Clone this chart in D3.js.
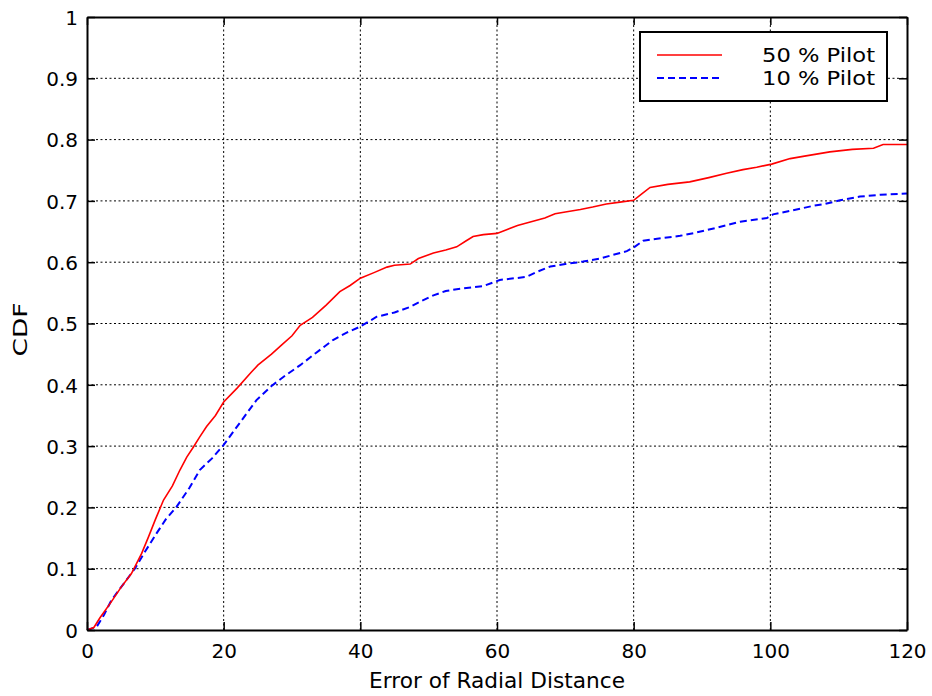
<!DOCTYPE html>
<html lang="en">
<head>
    <meta charset="UTF-8" />
    <title>CDF of Radial Distance Error</title>
    <script src="https://d3js.org/d3.v7.min.js"></script>
    <style>
        body { margin: 0; background: #fff; }
        text { font-family: "DejaVu Sans", sans-serif; fill: #000; }
    </style>
</head>
<body>
    <div id="viz"></div>
    <script>
        // --- Data ---
        const xTicks = [0, 20, 40, 60, 80, 100, 120];
        const yTicks = [0, 0.1, 0.2, 0.3, 0.4, 0.5, 0.6, 0.7, 0.8, 0.9, 1];

        const pilot50X = [0, 1, 1.9, 3.5, 5, 6.5, 8, 9, 10, 11.2, 12.5, 13.6, 14.6, 15.6, 16.5, 17.5, 18.8, 20, 22, 24, 25, 27, 28.5, 30, 31.2, 33, 35, 37, 38.5, 40, 42, 43.9, 45, 47.3, 48.5, 50.7, 52.5, 54.1, 55.5, 56.5, 58, 60, 61.4, 63, 65, 67, 68.5, 70, 72.2, 74, 76, 78, 80, 81, 82.4, 85, 88.2, 91, 93.6, 96, 98, 100.2, 102.9, 105, 108.7, 112, 115.1, 116.5, 120];
        const pilot50Y = [0, 0.004, 0.02, 0.045, 0.07, 0.092, 0.125, 0.152, 0.18, 0.212, 0.235, 0.261, 0.282, 0.299, 0.315, 0.332, 0.35, 0.372, 0.395, 0.42, 0.432, 0.45, 0.465, 0.48, 0.497, 0.51, 0.53, 0.552, 0.562, 0.574, 0.583, 0.592, 0.595, 0.597, 0.606, 0.615, 0.62, 0.625, 0.635, 0.642, 0.645, 0.647, 0.653, 0.66, 0.666, 0.672, 0.679, 0.682, 0.686, 0.69, 0.695, 0.698, 0.701, 0.71, 0.722, 0.727, 0.731, 0.738, 0.745, 0.751, 0.755, 0.76, 0.769, 0.773, 0.78, 0.784, 0.786, 0.792, 0.792];

        const pilot10X = [0, 1.4, 2.5, 3.6, 5, 7, 8.5, 10.2, 11.5, 13.1, 15, 16.5, 18.3, 20, 22.5, 24.8, 27, 29, 31.2, 33.5, 36, 38, 40, 42.4, 45, 47.3, 49, 50.7, 52.5, 54.1, 58, 60.4, 64.3, 66, 67.8, 70, 72.6, 75.1, 77, 79, 80, 81.4, 84, 86.8, 89, 91.7, 93.5, 95.6, 99.5, 100.4, 103, 106.3, 108, 110.2, 113.1, 116.1, 120];
        const pilot10Y = [0, 0.005, 0.025, 0.049, 0.07, 0.1, 0.128, 0.158, 0.18, 0.201, 0.232, 0.261, 0.28, 0.302, 0.34, 0.375, 0.398, 0.415, 0.432, 0.452, 0.473, 0.485, 0.495, 0.511, 0.518, 0.527, 0.537, 0.546, 0.553, 0.556, 0.561, 0.571, 0.576, 0.585, 0.593, 0.597, 0.601, 0.606, 0.612, 0.618, 0.624, 0.635, 0.639, 0.643, 0.648, 0.655, 0.66, 0.666, 0.672, 0.678, 0.684, 0.692, 0.695, 0.701, 0.707, 0.71, 0.712];

        const seriesNames = ["50 % Pilot", "10 % Pilot"];

        // --- Layout ---
        const W = 932, H = 696;
        const margin = {left: 87, right: 25, top: 17, bottom: 66};

        const svg = d3.select("#viz").append("svg")
            .attr("width", W)
            .attr("height", H);

        const x = d3.scaleLinear().domain([0, 120]).range([margin.left, W - margin.right]);
        const y = d3.scaleLinear().domain([0, 1]).range([H - margin.bottom, margin.top]);

        // grid
        const grid = svg.append("g")
            .attr("stroke", "#000")
            .attr("stroke-width", 1)
            .attr("stroke-dasharray", "2,2.5");
        grid.selectAll(".gx").data(xTicks.slice(1, -1)).enter().append("line")
            .attr("x1", d => x(d)).attr("x2", d => x(d))
            .attr("y1", y(0)).attr("y2", y(1));
        grid.selectAll(".gy").data(yTicks.slice(1, -1)).enter().append("line")
            .attr("y1", d => y(d)).attr("y2", d => y(d))
            .attr("x1", x(0)).attr("x2", x(120));

        // curves
        const line = d3.line().x(d => x(d[0])).y(d => y(d[1]));
        const red = pilot50X.map((v, i) => [v, pilot50Y[i]]);
        const blue = pilot10X.map((v, i) => [v, pilot10Y[i]]);

        svg.append("path").datum(blue)
            .attr("fill", "none")
            .attr("stroke", "#0000ff")
            .attr("stroke-width", 2)
            .attr("stroke-dasharray", "7,4")
            .attr("d", line);
        svg.append("path").datum(red)
            .attr("fill", "none")
            .attr("stroke", "#ff0000")
            .attr("stroke-width", 1.6)
            .attr("d", line);

        // axes (MATLAB style: ticks inside, box)
        const tickLen = 8;
        const xAxis = d3.axisBottom(x).tickValues(xTicks).tickSizeInner(-tickLen).tickSizeOuter(0);
        const yAxis = d3.axisLeft(y).tickValues(yTicks).tickSizeInner(-tickLen).tickSizeOuter(0)
            .tickFormat(d => d === 0 || d === 1 ? d3.format("d")(d) : d3.format(".1f")(d));

        const gx = svg.append("g").attr("transform", `translate(0,${y(0)})`).call(xAxis);
        const gy = svg.append("g").attr("transform", `translate(${x(0)},0)`).call(yAxis);
        const gxTop = svg.append("g").attr("transform", `translate(0,${y(1)})`)
            .call(d3.axisTop(x).tickValues(xTicks).tickSizeInner(-tickLen).tickSizeOuter(0).tickFormat(""));
        const gyRight = svg.append("g").attr("transform", `translate(${x(120)},0)`)
            .call(d3.axisRight(y).tickValues(yTicks).tickSizeInner(-tickLen).tickSizeOuter(0).tickFormat(""));

        [gx, gy, gxTop, gyRight].forEach(g => {
            g.select(".domain").attr("stroke", "#000").attr("stroke-width", 2);
            g.selectAll(".tick line").attr("stroke", "#000").attr("stroke-width", 1.5);
            g.selectAll("text").attr("font-size", 20).attr("font-family", "DejaVu Sans, sans-serif").attr("fill", "#000");
        });
        gx.selectAll("text").attr("dy", null).attr("y", 28);
        gy.selectAll("text").attr("x", -9).attr("dy", "0.36em");

        // axis titles
        svg.append("text")
            .attr("x", (x(0) + x(120)) / 2)
            .attr("y", 688)
            .attr("text-anchor", "middle")
            .attr("font-size", 21)
            .attr("textLength", 256)
            .attr("lengthAdjust", "spacingAndGlyphs")
            .text("Error of Radial Distance");
        svg.append("text")
            .attr("transform", `translate(27,${(y(0) + y(1)) / 2 + 6}) rotate(-90)`)
            .attr("text-anchor", "middle")
            .attr("font-size", 20)
            .attr("textLength", 54)
            .attr("lengthAdjust", "spacingAndGlyphs")
            .text("CDF");

        // legend
        const legend = svg.append("g");
        legend.append("rect")
            .attr("x", 640).attr("y", 32)
            .attr("width", 247).attr("height", 69)
            .attr("fill", "#fff")
            .attr("stroke", "#000")
            .attr("stroke-width", 2);
        const legendItems = [
            {name: seriesNames[0], color: "#ff0000", dash: null, w: 1.6},
            {name: seriesNames[1], color: "#0000ff", dash: "7,4", w: 2}
        ];
        legendItems.forEach((d, i) => {
            const ly = 55 + i * 23;
            legend.append("line")
                .attr("x1", 657).attr("x2", 722)
                .attr("y1", ly).attr("y2", ly)
                .attr("stroke", d.color)
                .attr("stroke-width", d.w)
                .attr("stroke-dasharray", d.dash);
            legend.append("text")
                .attr("x", 762).attr("y", ly + 7)
                .attr("font-size", 19)
                .attr("textLength", 113)
                .attr("lengthAdjust", "spacingAndGlyphs")
                .text(d.name);
        });
    </script>
</body>
</html>
